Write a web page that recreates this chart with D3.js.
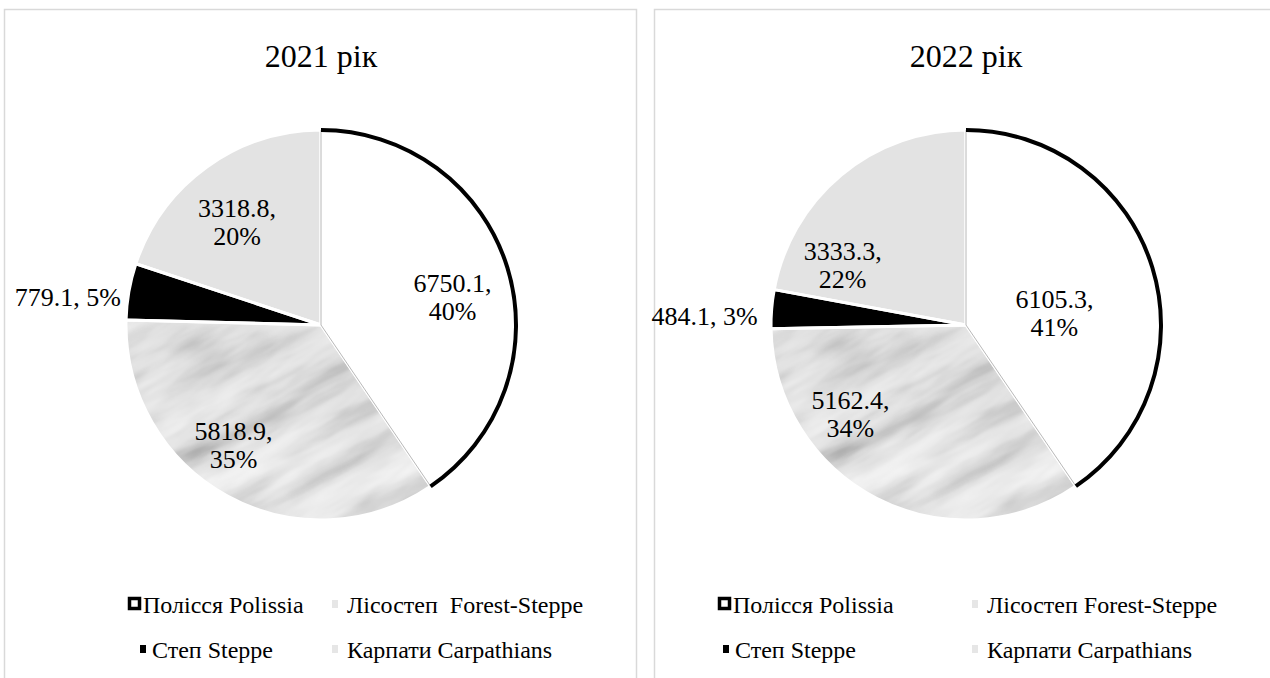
<!DOCTYPE html>
<html><head><meta charset="utf-8">
<script src="https://cdn.jsdelivr.net/npm/d3@7"></script>
<style>
html,body{margin:0;padding:0;background:#fff;}
svg{display:block;}
</style></head>
<body>
<svg id="chart" width="1270" height="678"></svg>
<script>
// ---- data ----
const categories = ["Полісся Polissia", "Лісостеп Forest-Steppe", "Степ Steppe", "Карпати Carpathians"];
const legendLabels2021 = ["Полісся Polissia", "Лісостеп\u00a0\u00a0Forest-Steppe", "Степ Steppe", "Карпати Carpathians"];
const legendLabels2022 = ["Полісся Polissia", "Лісостеп Forest-Steppe", "Степ Steppe", "Карпати Carpathians"];
const years = ["2021 рік", "2022 рік"];
const values2021 = [6750.1, 5818.9, 779.1, 3318.8];
const values2022 = [6105.3, 5162.4, 484.1, 3333.3];
const percent2021 = [40, 35, 5, 20];
const percent2022 = [41, 34, 3, 22];

// ---- layout ----
const FONT = "'Liberation Serif', 'Times New Roman', 'DejaVu Serif', serif";
const R = 195;
const panels = [
  {x: 4.5, cx: 321, cy: 325, title: years[0], values: values2021, pct: percent2021, legend: legendLabels2021,
   nudge: [[1, 7], [-22, -5], [-2, 16], [-4, 3]],
   legendText: [[143, 613], [347, 613], [152, 658], [347, 658]]},
  {x: 654.5, cx: 966, cy: 325, title: years[1], values: values2022, pct: percent2022, legend: legendLabels2022,
   nudge: [[-42, 23], [-53, -37], [-8, 16], [-36, 40]],
   legendText: [[733, 613], [987, 613], [735, 658], [987, 658]]}
];
const fills = ["#ffffff", "marble", "#000000", "#e3e3e3"];
const outsideLabel = [false, false, true, false];

const svg = d3.select("#chart").attr("font-family", FONT);
const defs = svg.append("defs");

// marble texture filter
const f = defs.append("filter").attr("id", "marbleFilter")
  .attr("x", 0).attr("y", 0).attr("width", 1).attr("height", 1)
  .attr("color-interpolation-filters", "sRGB");
f.append("feTurbulence").attr("type", "fractalNoise")
  .attr("baseFrequency", "0.007 0.028").attr("numOctaves", 4).attr("seed", 11);
f.append("feColorMatrix").attr("type", "matrix")
  .attr("values", "0.5 0.3 0.2 0 0  0.5 0.3 0.2 0 0  0.5 0.3 0.2 0 0  0 0 0 0 1");
const ct = f.append("feComponentTransfer");
const tv = "0.40 0.48 0.56 0.66 0.75 0.82 0.88 0.92 0.95 0.97 0.99 1 1";
ct.append("feFuncR").attr("type", "table").attr("tableValues", tv);
ct.append("feFuncG").attr("type", "table").attr("tableValues", tv);
ct.append("feFuncB").attr("type", "table").attr("tableValues", tv);

const pie = d3.pie().sort(null).value(d => d).startAngle(0).endAngle(2 * Math.PI);
const arc = d3.arc().innerRadius(0).outerRadius(R);
const rimArc = d3.arc().innerRadius(R).outerRadius(R);
const labelArc = d3.arc().innerRadius(0).outerRadius(R * 1.4); // centroid at 0.7R
const fmt = d3.format(".1f");

panels.forEach((p, pi) => {
  svg.append("rect").attr("x", p.x).attr("y", 9.5).attr("width", 632).attr("height", 720)
    .attr("fill", "none").attr("stroke", "#d9d9d9").attr("stroke-width", 1.5);

  svg.append("text").attr("x", p.cx).attr("y", 67).attr("text-anchor", "middle")
    .attr("font-family", FONT).attr("font-size", 32).attr("fill", "#000").text(p.title);

  const g = svg.append("g").attr("transform", `translate(${p.cx},${p.cy})`);
  const arcs = pie(p.values);

  const clipId = "clipFS" + pi;
  defs.append("clipPath").attr("id", clipId).append("path").attr("d", arc(arcs[1]));

  arcs.forEach((a, i) => {
    if (fills[i] === "marble") {
      g.append("g").attr("clip-path", `url(#${clipId})`)
        .append("g").attr("transform", "rotate(-28)")
        .append("rect").attr("x", -R * 1.6).attr("y", -R * 1.6)
        .attr("width", R * 3.2).attr("height", R * 3.2)
        .attr("filter", "url(#marbleFilter)");
    } else {
      g.append("path").attr("d", arc(a)).attr("fill", fills[i]);
    }
  });
  arcs.forEach(a => {
    g.append("path").attr("d", arc(a)).attr("fill", "none")
      .attr("stroke", "#fff").attr("stroke-width", 3).attr("stroke-linejoin", "round");
  });
  g.append("path").attr("d", arc(arcs[0])).attr("fill", "none")
    .attr("stroke", "#a6a6a6").attr("stroke-width", 0.8);
  g.append("path").attr("d", rimArc(arcs[0])).attr("fill", "none")
    .attr("stroke", "#000").attr("stroke-width", 4);

  arcs.forEach((a, i) => {
    const mid = (a.startAngle + a.endAngle) / 2;
    const [dx, dy] = p.nudge[i];
    const valTxt = fmt(p.values[i]) + ",";
    const pctTxt = p.pct[i] + "%";
    if (outsideLabel[i]) {
      const x = Math.sin(mid) * (R + 6) + dx;
      const y = -Math.cos(mid) * (R + 6) + dy;
      g.append("text").attr("x", x).attr("y", y).attr("text-anchor", "end")
        .attr("font-family", FONT).attr("font-size", 26).attr("fill", "#000")
        .text(valTxt + " " + pctTxt);
    } else {
      const c = labelArc.centroid(a);
      const x = c[0] + dx, y = c[1] + dy;
      const t = g.append("text").attr("text-anchor", "middle")
        .attr("font-family", FONT).attr("font-size", 26).attr("fill", "#000");
      t.append("tspan").attr("x", x).attr("y", y).text(valTxt);
      t.append("tspan").attr("x", x).attr("y", y + 28).text(pctTxt);
    }
  });

  p.legend.forEach((lab, i) => {
    const [tx, ty] = p.legendText[i];
    if (i === 0) {
      svg.append("rect").attr("x", tx - 13.5).attr("y", ty - 14.5).attr("width", 10).attr("height", 10)
        .attr("fill", "#fff").attr("stroke", "#000").attr("stroke-width", 3.5);
    } else if (i === 2) {
      svg.append("rect").attr("x", tx - 12).attr("y", ty - 13).attr("width", 6).attr("height", 8)
        .attr("fill", "#000");
    } else {
      svg.append("rect").attr("x", tx - 15).attr("y", ty - 13).attr("width", 6).attr("height", 8)
        .attr("fill", "#e6e6e6");
    }
    svg.append("text").attr("x", tx).attr("y", ty)
      .attr("font-family", FONT).attr("font-size", 24).attr("fill", "#000").text(lab);
  });
});
</script>
</body></html>
